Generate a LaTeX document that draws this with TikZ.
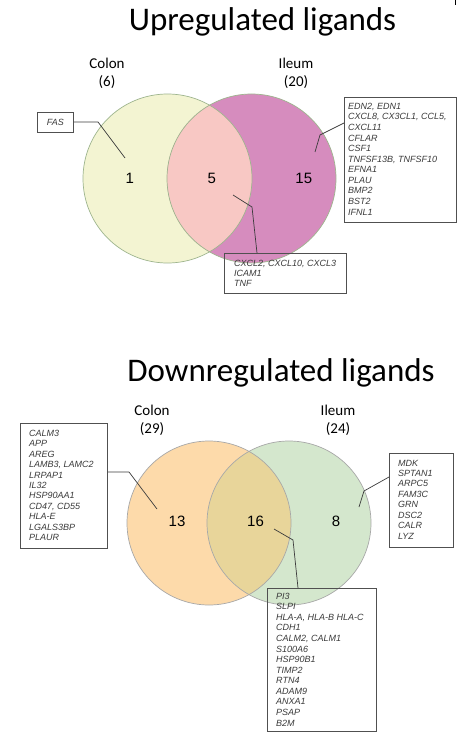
\documentclass[tikz,border=0pt]{standalone}
\usepackage{fontspec}
\setmainfont{Carlito}
\newfontfamily\arialf{Liberation Sans}
\definecolor{upL}{HTML}{F3F4D2}
\definecolor{upR}{HTML}{D68CBE}
\definecolor{upI}{HTML}{F8C8C4}
\definecolor{upEdge}{HTML}{9EB58E}
\definecolor{dnL}{HTML}{FDDAAA}
\definecolor{dnR}{HTML}{D4E7CD}
\definecolor{dnI}{HTML}{E8D59A}
\definecolor{dnEdge}{HTML}{A8A8A8}
\definecolor{boxgray}{HTML}{505050}
\definecolor{txtgray}{HTML}{3A3A3A}
\definecolor{leadgray}{HTML}{3C3C3C}
\begin{document}
\begin{tikzpicture}[x=1pt,y=-1pt,
  title/.style={font=\fontsize{33}{36}\selectfont, anchor=base, inner sep=0pt},
  setlabel/.style={font=\fontsize{15}{18.5}\selectfont, align=center, anchor=base, inner sep=0pt},
  count/.style={font=\arialf\fontsize{15}{18}\selectfont, anchor=base, inner sep=0pt},
  listbox/.style={draw=boxgray, line width=0.8pt, inner sep=0pt, anchor=north west},
  listtext/.style={font=\arialf\itshape\fontsize{9}{10.5}\selectfont, text=txtgray, align=left, anchor=base west, inner sep=0pt},
  leader/.style={draw=leadgray, line width=0.7pt},
]
\useasboundingbox (0,0) rectangle (457,733);
\fill[white] (0,0) rectangle (457,733);
\draw[line width=0.8pt] (455,0) -- (455,5);

% ---------- Upregulated ----------
\node[title] (uptitle) at (262.5,31) {Upregulated ligands};
% anchor=base of a multi-line node is the baseline of its last line
\node[setlabel] (upcolon) at (107,86.8) {Colon\\(6)};
\node[setlabel] (upileum) at (296,86.8) {Ileum\\(20)};

\coordinate (uA) at (167.5,178.5);
\coordinate (uB) at (251.5,178.5);
\fill[upL] (uA) circle[radius=84.5pt];
\fill[upR] (uB) circle[radius=84.5pt];
\begin{scope}
  \clip (uA) circle[radius=84.5pt];
  \fill[upI] (uB) circle[radius=84.5pt];
\end{scope}
\draw[upEdge, line width=0.7pt] (uA) circle[radius=84.5pt];
\draw[upEdge, line width=0.7pt] (uB) circle[radius=84.5pt];

\node[count] (u1) at (129.7,183) {1};
\node[count] (u5) at (211.7,183) {5};
\node[count] (u15) at (303.8,183) {15};

\node[listbox, minimum width=36pt, minimum height=20pt] (fasbox) at (37,112) {};
\node[font=\arialf\itshape\fontsize{9}{10.5}\selectfont, text=txtgray, inner sep=0pt] (fastext) at (fasbox.center) {FAS};

\node[listbox, minimum width=112pt, minimum height=125pt] (upIlbox) at (344,97) {};
\node[listtext, font=\arialf\itshape\fontsize{9}{10.57}\selectfont] (upIltext) at (348,215.0) {EDN2, EDN1\\CXCL8, CX3CL1, CCL5,\\CXCL11\\CFLAR\\CSF1\\TNFSF13B, TNFSF10\\EFNA1\\PLAU\\BMP2\\BST2\\IFNL1};

\node[listbox, minimum width=122pt, minimum height=40pt] (upInbox) at (224,253) {};
\node[listtext, font=\arialf\itshape\fontsize{9}{10}\selectfont] (upIntext) at (234,286) {CXCL2, CXCL10, CXCL3\\ICAM1\\TNF};

\coordinate (l1s) at (73,122);
\coordinate (l1b) at (98,122);
\coordinate (l1e) at (125,158);
\draw[leader] (fasbox.east |- l1s) -- (l1b) -- (l1e);

\coordinate (l2s) at (344,123);
\coordinate (l2b) at (320,135);
\coordinate (l2e) at (315,152);
\draw[leader] (upIlbox.west |- l2s) -- (l2b) -- (l2e);

\coordinate (l3s) at (233,195);
\coordinate (l3b) at (252,207);
\coordinate (l3e) at (257,253);
\draw[leader] (l3s) -- (l3b) -- (l3e |- upInbox.north);

% ---------- Downregulated ----------
\node[title] (dntitle) at (281,381) {Downregulated ligands};
\node[setlabel] (dncolon) at (152,433.5) {Colon\\(29)};
\node[setlabel] (dnileum) at (338,433.5) {Ileum\\(24)};

\coordinate (dA) at (209,523);
\coordinate (dB) at (289,523);
\fill[dnL] (dA) circle[radius=82pt];
\fill[dnR] (dB) circle[radius=82pt];
\begin{scope}
  \clip (dA) circle[radius=82pt];
  \fill[dnI] (dB) circle[radius=82pt];
\end{scope}
\draw[dnEdge, line width=0.7pt] (dA) circle[radius=82pt];
\draw[dnEdge, line width=0.7pt] (dB) circle[radius=82pt];

\node[count] (d13) at (177,526) {13};
\node[count] (d16) at (255.5,526) {16};
\node[count] (d8) at (336,526) {8};

\node[listbox, minimum width=87pt, minimum height=125pt] (dnCobox) at (20,423) {};
\node[listtext, font=\arialf\itshape\fontsize{9}{10.4}\selectfont] (dnCotext) at (29,540.5) {CALM3\\APP\\AREG\\LAMB3, LAMC2\\LRPAP1\\IL32\\HSP90AA1\\CD47, CD55\\HLA-E\\LGALS3BP\\PLAUR};

\node[listbox, minimum width=64pt, minimum height=94pt] (dnIlbox) at (389,453) {};
\node[listtext, font=\arialf\itshape\fontsize{9}{10.47}\selectfont] (dnIltext) at (398,539.3) {MDK\\SPTAN1\\ARPC5\\FAM3C\\GRN\\DSC2\\CALR\\LYZ};

\node[listbox, minimum width=109pt, minimum height=143pt] (dnInbox) at (267,588) {};
\node[listtext, font=\arialf\itshape\fontsize{9}{10.56}\selectfont] (dnIntext) at (276,726.0) {PI3\\SLPI\\HLA-A, HLA-B HLA-C\\CDH1\\CALM2, CALM1\\S100A6\\HSP90B1\\TIMP2\\RTN4\\ADAM9\\ANXA1\\PSAP\\B2M};

\coordinate (l4s) at (107,472);
\coordinate (l4b) at (129,472);
\coordinate (l4e) at (157,509);
\draw[leader] (dnCobox.east |- l4s) -- (l4b) -- (l4e);

\coordinate (l5s) at (389,477);
\coordinate (l5b) at (364,491);
\coordinate (l5e) at (359,507);
\draw[leader] (dnIlbox.west |- l5s) -- (l5b) -- (l5e);

\coordinate (l6s) at (274,529);
\coordinate (l6b) at (293,540);
\coordinate (l6e) at (298,588);
\draw[leader] (l6s) -- (l6b) -- (l6e |- dnInbox.north);
\end{tikzpicture}
\end{document}
